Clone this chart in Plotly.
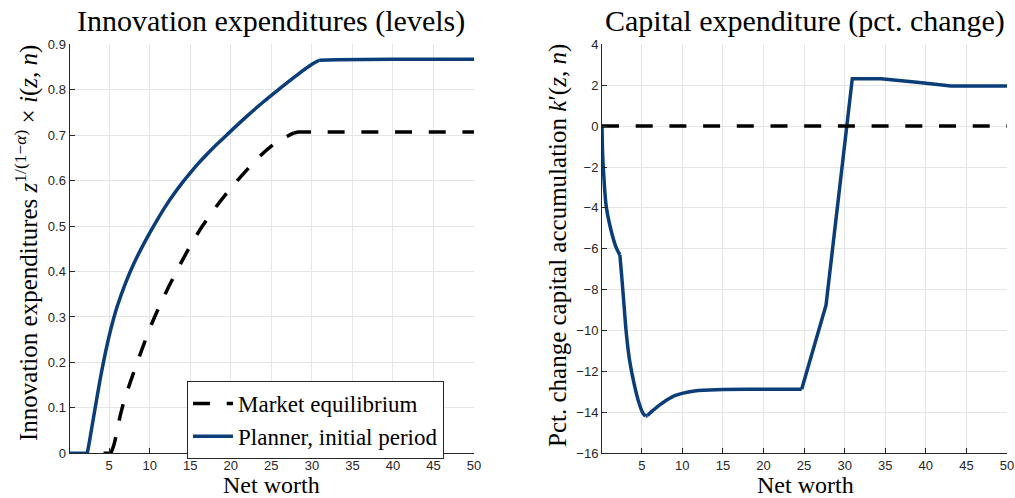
import plotly.graph_objects as go

# ---------------- data ----------------
# Left panel: innovation expenditures (levels)
planner_lv_x = [0.1, 1.0, 2.29, 2.55, 3.0, 3.5, 4.0, 4.5, 5.0, 5.5, 6.0, 7.0, 8.0, 9.0, 10.0, 11.0, 12.0,
                13.0, 14.0, 15.0, 16.0, 17.0, 18.0, 19.0, 20.0, 22.0, 24.0, 26.0, 28.0, 30.0, 30.9,
                33.0, 40.0, 50.0]
planner_lv_y = [0.0, 0.0, 0.0, 0.025, 0.072, 0.124, 0.174, 0.219, 0.259, 0.294, 0.324, 0.374, 0.416,
                0.452, 0.485, 0.516, 0.545, 0.571, 0.595, 0.617, 0.638, 0.657, 0.675, 0.692, 0.709,
                0.742, 0.773, 0.802, 0.830, 0.856, 0.865, 0.866, 0.867, 0.867]
planner_lv_pieces = [(0, 2, "linear"), (2, 30, "spline"), (30, 33, "linear")]

market_lv_x = [4.3, 5.2, 5.6, 6.6, 8.46, 10.6, 13.3, 16.5, 20.8, 25.0, 27.8, 28.3, 35.0, 50.0]
market_lv_y = [0.0, 0.0, 0.02, 0.10, 0.20, 0.30, 0.40, 0.50, 0.60, 0.676, 0.705, 0.707, 0.707, 0.707]
market_lv_pieces = [(0, 1, "linear"), (1, 10, "spline"), (10, 13, "linear")]

# Right panel: capital expenditure (pct. change)
planner_k_x = [0.1, 0.18, 0.3, 0.62, 1.1, 1.8, 2.3, 2.5, 2.83, 3.1, 3.5, 4.06, 4.63, 5.16, 5.45,
               5.7, 6.1, 7.4, 9.06, 11.5, 15.0, 20.0, 24.7, 27.7, 30.94, 34.5, 39.2, 43.1, 50.0]
planner_k_y = [0.0, -1.4, -2.29, -3.93, -4.91, -5.89, -6.3, -7.2, -8.84, -10.15, -11.46, -12.6, -13.5,
               -14.05, -14.18, -14.15, -14.0, -13.58, -13.18, -12.95, -12.88, -12.87, -12.87, -8.76,
               2.32, 2.32, 2.13, 1.96, 1.96]
planner_k_pieces = [(0, 6, "spline"), (6, 14, "spline"), (14, 15, "linear"), (15, 22, "spline"), (22, 28, "linear")]

market_k_x = [0.1, 50.0]
market_k_y = [0.0, 0.0]

left_yticks = [0, 0.1, 0.2, 0.3, 0.4, 0.5, 0.6, 0.7, 0.8, 0.9]
left_yticklabels = ["0", "0.1", "0.2", "0.3", "0.4", "0.5", "0.6", "0.7", "0.8", "0.9"]
right_yticks = [-16, -14, -12, -10, -8, -6, -4, -2, 0, 2, 4]
xticks = [5, 10, 15, 20, 25, 30, 35, 40, 45, 50]

# ---------------- style ----------------
BLUE = "#0b3d78"
W, H = 1015, 498
SERIF = "Liberation Serif"
SANS = "Liberation Sans"
TICKC = "#262626"
GRIDC = "#e5e5e5"
DASH = "17px,16.7px"
LW = 3.5

fig = go.Figure()


def add_pieces(xs, ys, pieces, name, line, xa, ya, show_first):
    for k, (i0, i1, shape) in enumerate(pieces):
        ln = dict(line, shape=shape)
        if shape == "spline":
            ln["smoothing"] = 1.0
        fig.add_trace(go.Scatter(
            x=xs[i0:i1 + 1], y=ys[i0:i1 + 1], mode="lines", name=name,
            legendgroup=name, showlegend=(show_first and k == 0),
            line=ln, xaxis=xa, yaxis=ya))


black_line = dict(color="black", width=LW, dash=DASH)
blue_line = dict(color=BLUE, width=LW)

add_pieces(market_lv_x, market_lv_y, market_lv_pieces, "Market equilibrium", black_line, "x", "y", True)
add_pieces(planner_lv_x, planner_lv_y, planner_lv_pieces, "Planner, initial period", blue_line, "x", "y", True)
add_pieces(planner_k_x, planner_k_y, planner_k_pieces, "Planner, initial period", blue_line, "x2", "y2", False)
fig.add_trace(go.Scatter(x=market_k_x, y=market_k_y, mode="lines", showlegend=False,
                         legendgroup="Market equilibrium", line=black_line, xaxis="x2", yaxis="y2"))


def px_x(p):
    return p / W


def px_y(p):
    return 1 - p / H


common_x = dict(range=[0.1, 50], tickvals=xticks, showgrid=True, gridcolor=GRIDC, gridwidth=1,
                showline=True, linecolor=TICKC, linewidth=1, ticks="inside", ticklen=5,
                tickcolor=TICKC, tickfont=dict(family=SANS, size=13, color=TICKC), zeroline=False,
                mirror=False, automargin=False)
common_y = dict(showgrid=True, gridcolor=GRIDC, gridwidth=1, showline=True, linecolor=TICKC,
                linewidth=1, ticks="inside", ticklen=5, tickcolor=TICKC,
                tickfont=dict(family=SANS, size=13, color=TICKC), zeroline=False, mirror=False,
                automargin=False)

y_dom = [px_y(453.3), px_y(44.3)]

fig.update_layout(
    template="none",
    width=W, height=H,
    margin=dict(l=0, r=0, t=0, b=0, pad=0),
    paper_bgcolor="white", plot_bgcolor="white",
    xaxis=dict(domain=[px_x(69.5), px_x(474)], anchor="y", **common_x),
    yaxis=dict(domain=y_dom, anchor="x", range=[0, 0.9], tickvals=left_yticks,
               ticktext=left_yticklabels, **common_y),
    xaxis2=dict(domain=[px_x(602), px_x(1007)], anchor="y2", **common_x),
    yaxis2=dict(domain=y_dom, anchor="x2", range=[-16, 4], tickvals=right_yticks, **common_y),
    legend=dict(x=px_x(187), y=px_y(381), xanchor="left", yanchor="top",
                bgcolor="white", bordercolor=TICKC, borderwidth=1,
                font=dict(family=SERIF, size=23, color="black"),
                tracegroupgap=0, itemwidth=40),
    showlegend=True,
)

ann = []
ann.append(dict(text="Innovation expenditures (levels)", x=px_x(271), y=px_y(21), xref="paper",
                yref="paper", showarrow=False, xanchor="center", yanchor="middle",
                font=dict(family=SERIF, size=30, color="black")))
ann.append(dict(text="Capital expenditure (pct. change)", x=px_x(805), y=px_y(21), xref="paper",
                yref="paper", showarrow=False, xanchor="center", yanchor="middle",
                font=dict(family=SERIF, size=30, color="black")))
ann.append(dict(text="Net worth", x=px_x(271), y=px_y(485), xref="paper", yref="paper",
                showarrow=False, xanchor="center", yanchor="middle",
                font=dict(family=SERIF, size=24, color="black")))
ann.append(dict(text="Net worth", x=px_x(805), y=px_y(485), xref="paper", yref="paper",
                showarrow=False, xanchor="center", yanchor="middle",
                font=dict(family=SERIF, size=24, color="black")))
ann.append(dict(text="Innovation expenditures <i>z</i><sup>1/(1−<i>α</i>)</sup> × <i>i</i>(<i>z</i>, <i>n</i>)",
                x=px_x(26), y=px_y(243), xref="paper", yref="paper", showarrow=False,
                textangle=-90, xanchor="center", yanchor="middle",
                font=dict(family=SERIF, size=25, color="black")))
ann.append(dict(text="Pct. change capital accumulation <i>k</i>′(<i>z</i>, <i>n</i>)",
                x=px_x(558), y=px_y(246), xref="paper", yref="paper", showarrow=False,
                textangle=-90, xanchor="center", yanchor="middle",
                font=dict(family=SERIF, size=25, color="black")))
fig.update_layout(annotations=ann)

# remove the default page margin so the 1015x498 figure fills the window exactly
PAGE_FIX = "document.body.style.margin='0';document.body.style.overflow='hidden';"
fig.write_html("out.html", post_script=PAGE_FIX, config={"displayModeBar": False})
